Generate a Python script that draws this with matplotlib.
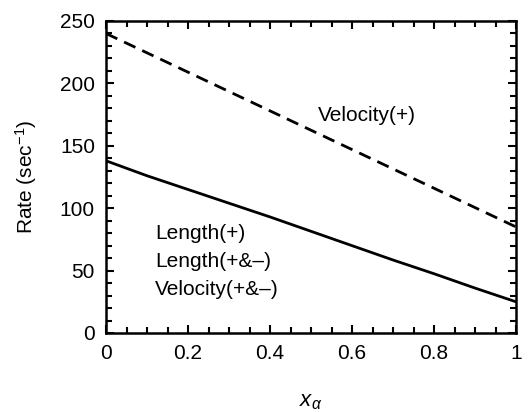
import numpy as np
import matplotlib
matplotlib.use("Agg")
import matplotlib.pyplot as plt
from matplotlib.ticker import MultipleLocator

plt.rcParams['font.family'] = ['Liberation Sans', 'DejaVu Sans']
plt.rcParams['mathtext.fontset'] = 'custom'
plt.rcParams['mathtext.rm'] = 'Liberation Sans'
plt.rcParams['mathtext.it'] = 'Liberation Sans:italic'

# x_alpha values
x_alpha = [0.0, 0.1, 0.2, 0.3, 0.4, 0.5, 0.6, 0.7, 0.8, 0.9, 1.0]
# Velocity(+) rate, dashed
velocity_plus = [240, 224.5, 209, 193.5, 178, 162.5, 147, 131.5, 116, 100.5, 85]
# Length(+), Length(+&-), Velocity(+&-) rate, solid
length_rate = [138, 126, 115, 104, 93, 81.5, 70, 58.5, 47.5, 36, 25]

fig = plt.figure(figsize=(5.31, 4.12), dpi=100)
ax = fig.add_axes([106 / 531, 1 - 333 / 412, 410 / 531, 312 / 412])

ax.plot(x_alpha, velocity_plus, color='black', lw=2, ls=(0, (4.5, 2.7)))
ax.plot(x_alpha, length_rate, color='black', lw=2)

fs = 15
ax.text(0.518, 174, 'Velocity(+)', fontsize=fs, va='center', ha='left')
ax.text(0.12, 80, 'Length(+)', fontsize=fs, va='center', ha='left')
ax.text(0.12, 57, 'Length(+&\u2013)', fontsize=fs, va='center', ha='left')
ax.text(0.12, 34.5, 'Velocity(+&\u2013)', fontsize=fs, va='center', ha='left')

ax.set_xlim(0, 1)
ax.set_ylim(0, 250)
ax.xaxis.set_major_locator(MultipleLocator(0.2))
ax.xaxis.set_minor_locator(MultipleLocator(0.05))
ax.yaxis.set_major_locator(MultipleLocator(50))
ax.yaxis.set_minor_locator(MultipleLocator(10))
ax.set_xticks([0, 0.2, 0.4, 0.6, 0.8, 1.0])
ax.set_xticklabels(['0', '0.2', '0.4', '0.6', '0.8', '1'])

ax.tick_params(which='both', direction='in', top=True, right=True, width=1.5, labelsize=fs)
ax.tick_params(which='major', length=6, pad=8)
ax.tick_params(which='minor', length=4)
for s in ax.spines.values():
    s.set_linewidth(1.8)

ax.set_ylabel('Rate (sec$^{-1}$)', fontsize=fs, labelpad=15)
ax.set_xlabel(r'$x_\alpha$', fontsize=16, labelpad=20)

fig.savefig('out.png', dpi=100)
